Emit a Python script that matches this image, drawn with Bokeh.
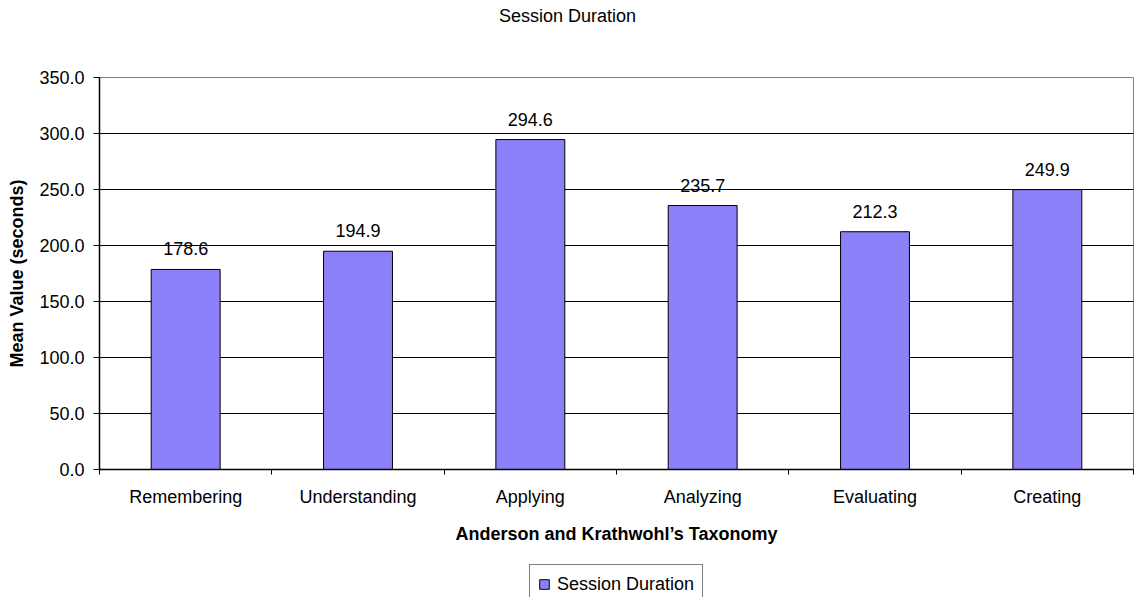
from bokeh.plotting import figure
from bokeh.models import (ColumnDataSource, FixedTicker, NumeralTickFormatter, Range1d,
                          Legend, LegendItem, Label)
from bokeh.core.properties import value
from bokeh.layouts import column
from bokeh.embed import file_html
from bokeh.resources import INLINE

categories = ["Remembering", "Understanding", "Applying", "Analyzing", "Evaluating", "Creating"]
values = [178.6, 194.9, 294.6, 235.7, 212.3, 249.9]
y_ticks = [0, 50, 100, 150, 200, 250, 300, 350]
series_name = "Session Duration"
chart_title = "Session Duration"

FONT = "Liberation Sans"
FS = "18px"
BAR = "#8b80f8"
INK = "black"

xs = [i + 0.5 for i in range(len(categories))]
src = ColumnDataSource(dict(x=xs, v=values, lab=[f"{v:.1f}" for v in values]))

W = 1134
TITLE_H = 30
LEG_H = 49
MAIN_H = 597 - TITLE_H - LEG_H
FRAME_TOP, FRAME_BOTTOM = 77, 469

# ---- title strip ----
tf = figure(width=W, height=TITLE_H, output_backend="svg", toolbar_location=None,
            x_range=Range1d(0, 1), y_range=Range1d(0, 1),
            min_border_left=99, min_border_right=1, min_border_top=0, min_border_bottom=0,
            outline_line_color=None, background_fill_color="white", border_fill_color="white")
tf.axis.visible = False
tf.grid.visible = False
tf.add_layout(Label(x=468, y=TITLE_H - 15, x_units="screen", y_units="screen",
                    text=chart_title, text_align="center", text_baseline="middle",
                    text_font=FONT, text_font_size=FS, text_color=INK))

# ---- main chart ----
p = figure(width=W, height=MAIN_H, output_backend="svg", toolbar_location=None,
           x_range=Range1d(0, len(categories)), y_range=Range1d(0, 350),
           min_border_left=99, min_border_right=1, min_border_top=FRAME_TOP - TITLE_H,
           min_border_bottom=MAIN_H - (FRAME_BOTTOM - TITLE_H),
           background_fill_color="white", border_fill_color="white",
           outline_line_color="#808080", outline_line_width=1)

p.vbar(x="x", top="v", width=0.4, source=src, fill_color=BAR, line_color="black", line_width=1)
p.text(x="x", y="v", text="lab", source=src, text_align="center", text_baseline="bottom",
       y_offset=-14, text_font=value(FONT), text_font_size=FS, text_color=INK)

# x axis
xa = p.xaxis[0]
xa.ticker = FixedTicker(ticks=xs, minor_ticks=list(range(len(categories) + 1)))
xa.major_label_overrides = {x: c for x, c in zip(xs, categories)}
xa.major_tick_out = 0
xa.major_tick_in = 0
xa.minor_tick_out = 5
xa.minor_tick_in = 0
xa.minor_tick_line_color = "black"
xa.axis_line_color = "black"
xa.axis_line_width = 1.5
xa.major_label_text_font = FONT
xa.major_label_text_font_size = FS
xa.major_label_text_color = INK
xa.major_label_standoff = 12
xa.axis_label = "Anderson and Krathwohl\u2019s Taxonomy"
xa.axis_label_text_font = FONT
xa.axis_label_text_font_size = FS
xa.axis_label_text_font_style = "bold"
xa.axis_label_text_color = INK
xa.axis_label_standoff = 14

# y axis
ya = p.yaxis[0]
ya.ticker = FixedTicker(ticks=y_ticks)
ya.formatter = NumeralTickFormatter(format="0.0")
ya.major_tick_out = 6
ya.major_tick_in = 0
ya.minor_tick_out = 0
ya.minor_tick_in = 0
ya.axis_line_color = "black"
ya.axis_line_width = 1.5
ya.major_tick_line_color = "black"
ya.major_label_text_font = FONT
ya.major_label_text_font_size = FS
ya.major_label_text_color = INK
ya.major_label_standoff = 9
ya.axis_label = "Mean Value (seconds)"
ya.axis_label_text_font = FONT
ya.axis_label_text_font_size = FS
ya.axis_label_text_font_style = "bold"
ya.axis_label_text_color = INK
ya.axis_label_standoff = 9

p.xgrid.visible = False
p.ygrid.grid_line_color = "black"
p.ygrid.grid_line_width = 1
p.ygrid.grid_line_alpha = 1.0

# ---- legend strip ----
lf = figure(width=W, height=LEG_H, output_backend="svg", toolbar_location=None,
            x_range=Range1d(0, len(categories)), y_range=Range1d(1000, 1001),
            min_border_left=99, min_border_right=1, min_border_top=0, min_border_bottom=0,
            outline_line_color=None, background_fill_color="white", border_fill_color="white")
lf.axis.visible = False
lf.grid.visible = False
lr = lf.vbar(x="x", top="v", width=0.4, source=src, fill_color=BAR, line_color="black", line_width=1)
leg = Legend(items=[LegendItem(label=series_name, renderers=[lr], index=0)],
             location=(430, -7))
leg.border_line_color = "black"
leg.border_line_width = 1
leg.background_fill_color = "white"
leg.background_fill_alpha = 1
leg.padding = 8
leg.margin = 0
leg.spacing = 0
leg.glyph_width = 12
leg.glyph_height = 12
leg.label_standoff = 7
leg.label_text_font = FONT
leg.label_text_font_size = FS
leg.label_text_color = INK
leg.label_height = 22
lf.add_layout(leg)

layout = column(tf, p, lf, spacing=0)
open("out.html", "w").write(file_html(layout, INLINE))
